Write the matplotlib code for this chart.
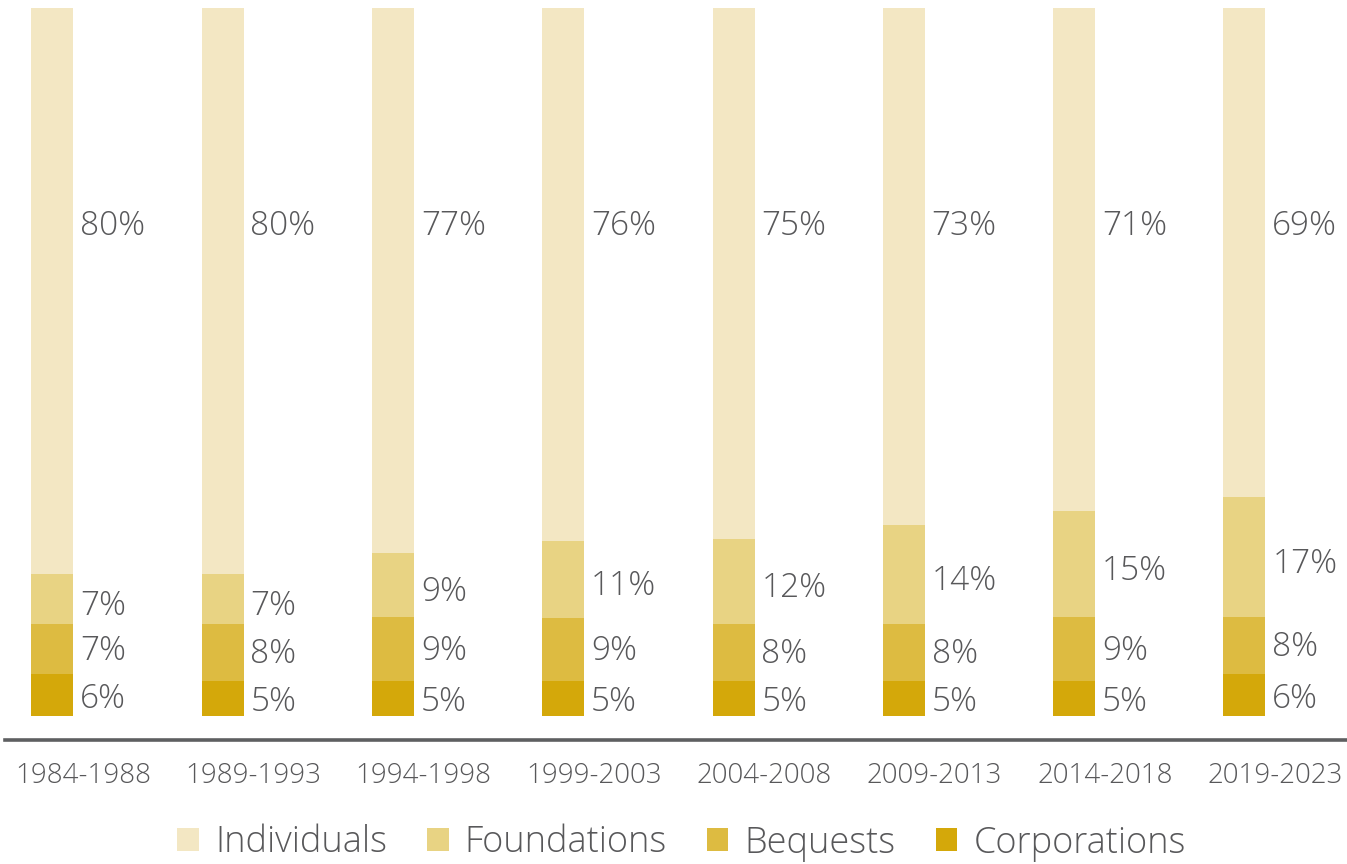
import matplotlib
matplotlib.use("Agg")
import matplotlib.pyplot as plt
from matplotlib.patches import Patch
import numpy as np

periods = ["1984-1988", "1989-1993", "1994-1998", "1999-2003",
           "2004-2008", "2009-2013", "2014-2018", "2019-2023"]
corporations = [6, 5, 5, 5, 5, 5, 5, 6]
bequests = [7, 8, 9, 9, 8, 8, 9, 8]
foundations = [7, 7, 9, 11, 12, 14, 15, 17]
individuals = [80, 80, 77, 76, 75, 73, 71, 69]

series_names = ["Individuals", "Foundations", "Bequests", "Corporations"]
colors = {"Individuals": "#F3E7C3", "Foundations": "#E8D383",
          "Bequests": "#DDBB41", "Corporations": "#D4A80A"}
label_shift = {"Individuals": 0.0, "Foundations": -1.0, "Bequests": -0.3, "Corporations": -0.6}
text_color = "#58585A"
FONT = ["Open Sans", "DejaVu Sans"]

W, H = 1347, 864
fig = plt.figure(figsize=(W / 100, H / 100), dpi=100)
ax = fig.add_axes([5 / W, 1 - 740 / H, (W - 5) / W, (740 - 8) / H])

x = np.arange(len(periods))
width = 0.2466
stack = [("Corporations", corporations), ("Bequests", bequests),
         ("Foundations", foundations), ("Individuals", individuals)]
totals = np.sum([np.array(v, dtype=float) for _, v in stack], axis=0)
bottom = np.zeros(len(periods))
for name, vals in stack:
    vals = np.array(vals, dtype=float)
    h = vals / totals * 100
    ax.bar(x, h, width, bottom=bottom, color=colors[name], linewidth=0)
    for xi, b, hv, v in zip(x, bottom, h, vals):
        if name == "Individuals":
            ypos = 69.2
        else:
            ypos = b + hv / 2 + label_shift[name]
        ax.text(xi + width / 2 + 0.04, ypos, f"{int(v)}%", ha="left", va="center",
                fontsize=24, color=text_color, family=FONT, fontweight="light")
    bottom += h

ax.set_xlim(-0.278, 7.602)
ax.set_ylim(-3.39, 100)
for s in ["top", "left", "right"]:
    ax.spines[s].set_visible(False)
ax.spines["bottom"].set_color("#5E5F61")
ax.spines["bottom"].set_linewidth(2.6)
ax.set_yticks([])
ax.set_xticks(x + 0.18)
ax.set_xticklabels(periods, fontsize=20, color=text_color, family=FONT, fontweight="light")
ax.tick_params(axis="x", length=0, pad=16)

handles = [Patch(facecolor=colors[n], edgecolor="none") for n in series_names]
leg = fig.legend(handles, series_names, loc="center", bbox_to_anchor=(0.506, 1 - 843 / H),
                 ncol=4, frameon=False, handlelength=0.6, handleheight=0.6,
                 handletextpad=0.45, columnspacing=1.1,
                 prop={"family": FONT, "size": 26, "weight": "light"})
for t in leg.get_texts():
    t.set_color(text_color)

fig.savefig("out.png", dpi=100, facecolor="white")
